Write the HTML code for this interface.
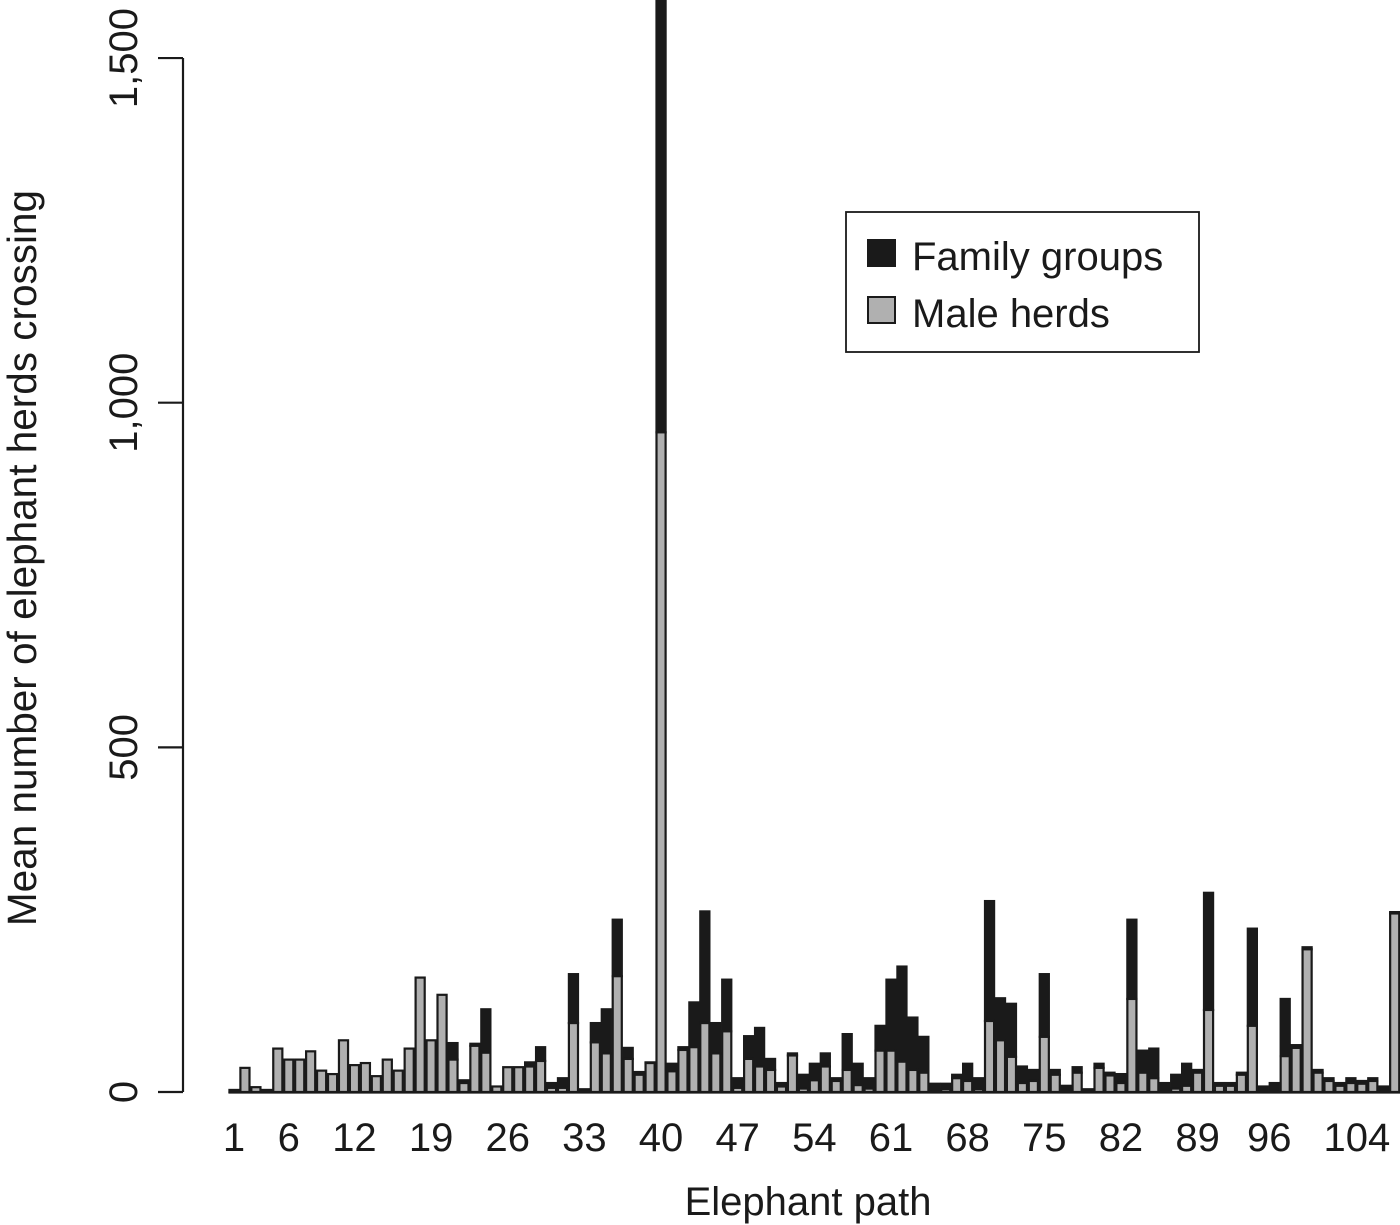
<!DOCTYPE html>
<html><head><meta charset="utf-8"><style>
html,body{margin:0;padding:0;background:#fff}
svg{display:block}
text{font-family:"Liberation Sans",sans-serif;fill:#1a1a1a}
</style></head><body>
<svg id="chart" width="1400" height="1225" viewBox="0 0 1400 1225">
<g id="bars"></g>
<g id="yaxis"></g>
<g id="xlabels"></g>
<text x="22" y="558" font-size="40.5" text-anchor="middle" transform="rotate(-90 22 558)" dominant-baseline="central">Mean number of elephant herds crossing</text>
<text x="808" y="1215" font-size="40" text-anchor="middle">Elephant path</text>
<g>
<rect x="846" y="212" width="353" height="140" fill="#fff" stroke="#1a1a1a" stroke-width="1.8"/>
<rect x="868" y="240" width="27" height="26" fill="#1a1a1a" stroke="#1a1a1a" stroke-width="2"/>
<text x="912" y="270" font-size="40">Family groups</text>
<rect x="868" y="297" width="27" height="26" fill="#b0b0b0" stroke="#1a1a1a" stroke-width="2"/>
<text x="912" y="327" font-size="40">Male herds</text>
</g>
</svg>
<script>
const male = [0,35,7,0,63,47,47,59,31,26,75,39,42,23,47,31,63,166,75,141,47,13,67,57,8,36,36,37,45,6,6,100,0,72,56,168,48,25,42,957,30,61,65,100,56,88,6,48,37,32,8,53,5,17,37,16,32,10,5,60,60,44,32,28,0,4,20,16,4,103,75,51,13,16,80,25,0,28,0,35,24,13,135,28,20,0,5,9,28,119,9,9,25,96,0,0,52,64,207,28,16,9,13,12,16,0,259];
const family = [3,0,0,3,0,0,0,0,0,0,0,0,0,0,0,0,0,0,0,0,24,4,3,63,0,0,0,6,20,7,14,71,4,28,64,82,16,4,1,700,11,4,65,162,44,75,14,33,56,16,5,3,20,24,19,4,52,31,15,36,103,138,76,52,12,8,5,25,16,174,61,77,24,16,91,7,9,8,4,6,4,13,115,32,43,13,20,32,4,170,4,4,3,141,8,13,83,4,3,4,4,4,7,4,4,8,2];
const tickLabels = [1,6,12,19,26,33,40,47,54,61,68,75,82,89,96,104];
const yTicks = [0,500,1000,1500];
const yTickText = ["0","500","1,000","1,500"];

const NS="http://www.w3.org/2000/svg";
const y0=1092, pxPer=0.6893;
function yScale(v){return y0 - v*pxPer;}
const unit=10.95, bw=9.1, x1=234;
function xCenter(i){return x1 + i*unit;}
function mk(tag, attrs, parent){const e=document.createElementNS(NS,tag);for(const k in attrs)e.setAttribute(k,attrs[k]);parent.appendChild(e);return e;}
const bars=document.getElementById('bars');
for(let i=0;i<male.length;i++){
  const cx=xCenter(i), x=cx-bw/2;
  const m=male[i], f=family[i];
  if(f>0){
    const top=Math.max(yScale(m+f),-5);
    const r=mk('rect',{x:x,y:top,width:bw,height:yScale(m)-top,fill:'#1a1a1a',stroke:'#1a1a1a','stroke-width':2.2},bars);
    
    
  }
  if(m>0){
    const r=mk('rect',{x:x,y:yScale(m),width:bw,height:y0-yScale(m),fill:'#b0b0b0',stroke:'#1a1a1a','stroke-width':2.2},bars);
    
    
  }
}
const base=mk('line',{x1:xCenter(0)-bw/2-1,x2:1400,y1:y0+0.5,y2:y0+0.5,stroke:'#1a1a1a','stroke-width':2.2},bars);


const ya=document.getElementById('yaxis');
const al=mk('line',{x1:183,x2:183,y1:yScale(yTicks[0]),y2:yScale(yTicks[yTicks.length-1]),stroke:'#1a1a1a','stroke-width':2.2},ya);


yTicks.forEach((t,j)=>{
  const yy=yScale(t);
  const tl=mk('line',{x1:158,x2:183,y1:yy,y2:yy,stroke:'#1a1a1a','stroke-width':2.2},ya);
  
  
  const tx=mk('text',{x:124,y:yy,'font-size':40,'text-anchor':'middle','dominant-baseline':'central',transform:'rotate(-90 124 '+yy+')'},ya);
  tx.textContent=yTickText[j];
  
  
});
const xl=document.getElementById('xlabels');
tickLabels.forEach(l=>{
  const tx=mk('text',{x:xCenter(l-1)-(l>=90?5:0),y:1151,'font-size':40,'text-anchor':'middle'},xl);
  tx.textContent=String(l);
  
  
});
</script>
</body></html>
